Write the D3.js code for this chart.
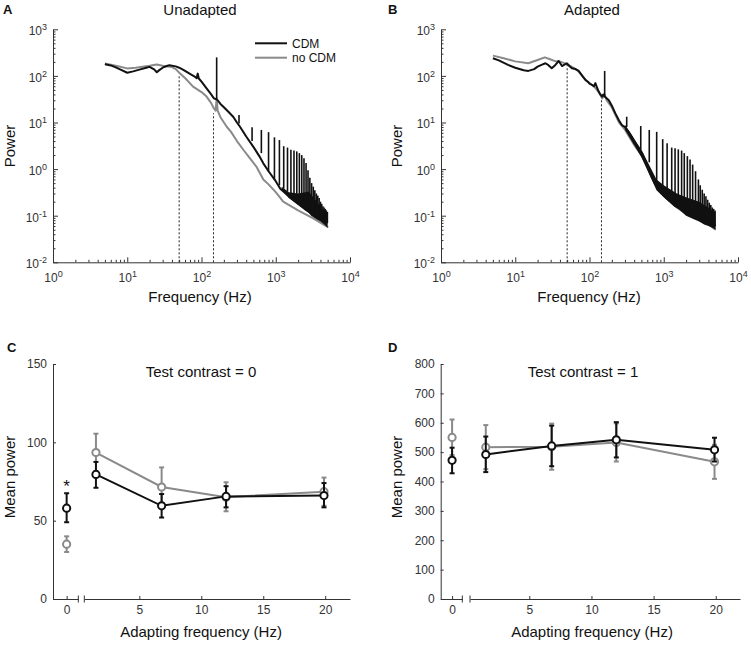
<!DOCTYPE html>
<html><head><meta charset="utf-8">
<script src="https://cdn.jsdelivr.net/npm/d3@7"></script>
<style>
body{margin:0;background:#fff;}
svg{font-family:"Liberation Sans",Arial,sans-serif;display:block;}
.tick text{fill:#333;}
</style></head>
<body>
<script>
// ---------------- DATA ----------------
// Panel A (Unadapted): [frequency Hz, power]
const cdmA = [[5,177],[6,168],[7,152],[8,138],[10,117],[12,125],[15,138],[18,150],[20,156],[23,138],[25,120],[27,133],[30,150],[34,163],[37,170],[45,160],[50,150],[57,134],[70,110],[80,98],[86,89],[89,112],[92,88],[100,75],[117,54],[135,40],[147,33],[155,32],[165,30],[180,25],[197,21.8],[230,17],[267,13.3],[300,10],[330,8.1],[400,5],[500,3],[600,1.9],[680,1.33],[800,0.9],[1000,0.55],[1150,0.38],[1500,0.26],[2000,0.18],[3000,0.11],[4000,0.085],[5000,0.07]];
const noCdmA = [[5,185],[7,165],[10,145],[13,150],[17,160],[20,165],[25,175],[30,165],[35,160],[40,155],[45,140],[51,114],[60,90],[77,59],[100,45],[117,36],[135,26],[147,20],[155,18],[160,33],[165,18],[180,13],[220,8],[250,6.3],[300,4],[366,2.6],[450,1.7],[555,1.1],[680,0.6],[800,0.47],[1000,0.32],[1260,0.2],[2000,0.13],[3200,0.088],[5100,0.056]];
const spikeFreqA = [160,320,480,640,800,960,1120,1280,1440,1600,1760,1920,2080,2240,2400,2560,2720,2880,3040,3200,3360,3520,3680,3840,4000,4160,4320,4480,4640,4800,4960];
const spikeTopA  = [250,14.5,7.9,6.9,6.2,4.8,4.2,3.1,2.9,2.6,2.5,2.4,2.2,2.0,1.7,1.35,0.95,0.65,0.5,0.42,0.35,0.3,0.27,0.24,0.2,0.18,0.16,0.15,0.14,0.13,0.12];
const spikeBaseA = [32,9.5,4,2.2,0.9,0.6,0.45,0.38,0.33,0.29,0.26,0.23,0.2,0.18,0.16,0.15,0.14,0.13,0.12,0.11,0.1,0.097,0.093,0.09,0.085,0.082,0.08,0.077,0.075,0.072,0.07];
const noiseFA  = [1200,1500,2000,2500,2800,3000,3500,4000,4500,5000];
const noiseHiA = [0.42,0.32,0.3,0.32,0.33,0.28,0.21,0.16,0.13,0.12];
const noiseLoA = [0.36,0.24,0.17,0.13,0.115,0.1,0.085,0.075,0.065,0.055];

// Panel B (Adapted)
const cdmB = [[5,239],[6,215],[8,172],[10,150],[13,132],[15,128],[18,140],[20,158],[23,175],[25.5,187],[28,170],[31,146],[34.7,172],[38.5,209],[42.6,163],[46,175],[49.7,186],[53,165],[58,146],[65,140],[71.5,128],[80,100],[88,82],[95,75],[100,68],[108,64],[115,60],[120,70],[127,55],[133,46],[140,40],[148,36],[153,40],[160,36],[170,33],[182,30],[200,23],[223,15.7],[250,11],[273,8.8],[300,8],[337,6.3],[370,5],[414,3.6],[460,2.8],[510,2.2],[600,1.2],[695,0.68],[800,0.45],[945,0.3],[1100,0.23],[1430,0.16],[2000,0.12],[2400,0.1],[3000,0.09],[4000,0.08],[5000,0.06]];
const noCdmB = [[5,272],[7,240],[10,205],[15,187],[20,220],[25,250],[30,225],[35,205],[40,203],[45,190],[50,180],[55,165],[60,150],[70,128],[80,100],[90,80],[100,70],[110,62],[120,55],[133,45],[148,33],[160,40],[170,30],[200,21],[250,10],[300,7],[400,3.3],[500,2],[600,1.1],[700,0.62],[800,0.42],[1000,0.27],[1500,0.15],[2000,0.11],[3000,0.08],[4000,0.065],[5000,0.05]];
const spikeFreqB = [160,317,490,638,803,968,1110,1280,1420,1570,1740,1890,2080,2260,2450,2680,2930,3100,3300,3500,3700,3900,4100,4300,4500,4700,4900];
const spikeTopB  = [128,13.3,8.4,6.9,6.3,4.4,3.6,2.9,2.8,2.65,2.5,2.2,1.9,1.6,1.25,0.9,0.6,0.45,0.36,0.3,0.26,0.22,0.19,0.17,0.15,0.14,0.13];
const spikeBaseB = [36,8,2.6,1.4,0.45,0.3,0.25,0.21,0.18,0.16,0.14,0.13,0.12,0.11,0.1,0.095,0.09,0.088,0.085,0.083,0.08,0.078,0.075,0.072,0.068,0.064,0.06];
const noiseFB  = [300,500,800,1000,1500,2000,2500,3000,3500,4000,4500,5000];
const noiseHiB = [9,2.6,0.6,0.45,0.3,0.25,0.22,0.2,0.17,0.15,0.13,0.12];
const noiseLoB = [7,1.8,0.35,0.25,0.15,0.1,0.085,0.075,0.065,0.06,0.055,0.05];

const dottedFreqs = [50,145];
const dottedTopA = [104,15.8];
const dottedTopB = [186,35.8];
const logTickValues = [1,10,100,1000,10000];
const logYTickValues = [0.01,0.1,1,10,100,1000];

// Panel C (Test contrast = 0)
const adaptFreqs = [1.5,6.8,12,19.9];
const cdmC    = [79.5,59.5,65.5,66];
const cdmCHi  = [87.5,67,72,74];
const cdmCLo  = [71,52,58.5,58.5];
const noCdmC   = [93.5,71.5,65,68.5];
const noCdmCHi = [105.5,84,74.5,77.5];
const noCdmCLo = [81.5,59,56,59.5];
const zeroC = {cdm:58, cdmHi:67.5, cdmLo:49, no:35, noHi:40, noLo:30};
const yTicksC = [0,50,100,150];

// Panel D (Test contrast = 1)
const cdmD    = [492,521,542,508];
const cdmDHi  = [553,590,602,549];
const cdmDLo  = [432,452,482,468];
const noCdmD   = [517,518,533,467];
const noCdmDHi = [592,597,598,525];
const noCdmDLo = [442,440,468,409];
const zeroD = {cdm:472, cdmHi:515, cdmLo:428, no:550, noHi:611, noLo:490};
const yTicksD = [0,100,200,300,400,500,600,700,800];
const xTicksCD = [5,10,15,20];

// ---------------- DRAW ----------------
const BLACK="#111", GRAY="#8a8a8a", AX="#333";
const svg = d3.select("body").append("svg").attr("width",751).attr("height",647);

function text(x,y,s,opt={}){
  const t = svg.append("text").attr("x",x).attr("y",y).text(s)
    .attr("font-size",opt.size||15).attr("fill",opt.fill||"#111")
    .attr("text-anchor",opt.anchor||"middle");
  if(opt.bold) t.attr("font-weight","bold");
  if(opt.rotate) t.attr("transform",`rotate(-90,${x},${y})`);
  return t;
}

function styleAxis(g){
  g.selectAll("path.domain").attr("stroke",AX).attr("stroke-width",1);
  g.selectAll(".tick line").attr("stroke",AX);
}

function minorVals(lo,hi){ const v=[]; for(let d=lo; d<hi; d*=10) for(let k=2;k<=9;k++) v.push(k*d); return v; }

function spectrum(x0, x1, cdm, nocdm, sF, sT, sB, nF, nHi, nLo, dTop){
  const x = d3.scaleLog().domain([1,1e4]).range([x0,x1]);
  const y = d3.scaleLog().domain([1e-2,1e3]).range([262.3,29.3]);
  // axes
  const gx = svg.append("g").attr("transform","translate(0,262.3)");
  gx.call(d3.axisBottom(x).tickValues(minorVals(1,1e4)).tickSize(-2.5).tickSizeOuter(0).tickFormat(""));
  gx.select(".domain").remove();
  const gx2 = svg.append("g").attr("transform","translate(0,262.3)")
    .call(d3.axisBottom(x).tickValues(logTickValues).tickSize(-5).tickSizeOuter(0).tickPadding(11).tickFormat(()=>"10"));
  gx2.selectAll(".tick text").attr("font-size",12).attr("font-family","Liberation Sans,Arial,sans-serif")
    .append("tspan").attr("dy","-0.55em").attr("font-size",9).text(d=>Math.round(Math.log10(d)));
  styleAxis(gx); styleAxis(gx2);
  const gy = svg.append("g").attr("transform",`translate(${x0},0)`);
  gy.call(d3.axisLeft(y).tickValues(minorVals(0.01,1000)).tickSize(-2.5).tickSizeOuter(0).tickFormat(""));
  gy.select(".domain").remove();
  const gy2 = svg.append("g").attr("transform",`translate(${x0},0)`)
    .call(d3.axisLeft(y).tickValues(logYTickValues).tickSize(-5).tickSizeOuter(0).tickPadding(6).tickFormat(()=>"10"));
  gy2.selectAll(".tick text").attr("font-size",12).attr("font-family","Liberation Sans,Arial,sans-serif").attr("dy","0.45em")
    .append("tspan").attr("dy","-0.55em").attr("font-size",9).text(d=>Math.round(Math.log10(d)));
  styleAxis(gy); styleAxis(gy2);

  // dotted lines
  dottedFreqs.forEach((f,i)=>{
    svg.append("line").attr("x1",x(f)).attr("x2",x(f)).attr("y1",262.3).attr("y2",y(dTop[i]))
      .attr("stroke","#222").attr("stroke-width",1).attr("stroke-dasharray","2,2");
  });
  const line = d3.line().x(d=>x(d[0])).y(d=>y(d[1]));
  svg.append("path").datum(nocdm).attr("d",line).attr("fill","none").attr("stroke",GRAY).attr("stroke-width",2).attr("stroke-linejoin","round");
  // noise band
  const area = d3.area().x(d=>x(d.f)).y0(d=>y(d.lo)).y1(d=>y(d.hi));
  svg.append("path").datum(nF.map((f,i)=>({f,hi:nHi[i],lo:nLo[i]}))).attr("d",area).attr("fill",BLACK);
  svg.append("path").datum(cdm).attr("d",line).attr("fill","none").attr("stroke",BLACK).attr("stroke-width",2).attr("stroke-linejoin","round");
  // spikes
  sF.forEach((f,i)=>{
    svg.append("line").attr("x1",x(f)).attr("x2",x(f)).attr("y1",y(sB[i])).attr("y2",y(sT[i]))
      .attr("stroke",BLACK).attr("stroke-width",1.6);
  });
}

spectrum(53,350,cdmA,noCdmA,spikeFreqA,spikeTopA,spikeBaseA,noiseFA,noiseHiA,noiseLoA,dottedTopA);
spectrum(441,738,cdmB,noCdmB,spikeFreqB,spikeTopB,spikeBaseB,noiseFB,noiseHiB,noiseLoB,dottedTopB);

// Legend (panel A)
svg.append("line").attr("x1",255).attr("x2",287).attr("y1",43.3).attr("y2",43.3).attr("stroke",BLACK).attr("stroke-width",2);
svg.append("line").attr("x1",255).attr("x2",287).attr("y1",57.7).attr("y2",57.7).attr("stroke",GRAY).attr("stroke-width",2);
text(292,47.5,"CDM",{size:12,anchor:"start"});
text(292,62,"no CDM",{size:12,anchor:"start"});

// Titles & labels A/B
text(3,14,"A",{size:13,bold:true,anchor:"start"});
text(200,15,"Unadapted");
text(388,14,"B",{size:13,bold:true,anchor:"start"});
text(592,15,"Adapted");
text(15,146,"Power",{rotate:true});
text(402,146,"Power",{rotate:true});
text(200,302,"Frequency (Hz)");
text(589,302,"Frequency (Hz)");

// ---------------- C / D ----------------
function meanPanel(cfg){
  const y = d3.scaleLinear().domain(cfg.yDomain).range([599,364]);
  const xz = d3.scaleLinear().domain(cfg.zDomain).range(cfg.zRange);
  const xm = d3.scaleLinear().domain(cfg.mDomain).range(cfg.mRange);
  const fmt = d3.format("d");
  const gy = svg.append("g").attr("transform",`translate(${cfg.zRange[0]},0)`)
    .call(d3.axisLeft(y).tickValues(cfg.yTicks).tickFormat(fmt).tickSize(-3).tickSizeOuter(0).tickPadding(6));
  gy.selectAll(".tick text").attr("font-size",12).attr("font-family","Liberation Sans,Arial,sans-serif");
  styleAxis(gy);
  const gz = svg.append("g").attr("transform","translate(0,599)")
    .call(d3.axisBottom(xz).tickValues([0]).tickFormat(fmt).tickSize(-3).tickSizeOuter(0).tickPadding(6));
  const gm = svg.append("g").attr("transform","translate(0,599)")
    .call(d3.axisBottom(xm).tickValues(xTicksCD).tickFormat(fmt).tickSize(-3).tickSizeOuter(0).tickPadding(6));
  [gz,gm].forEach(g=>{ g.selectAll(".tick text").attr("font-size",12).attr("font-family","Liberation Sans,Arial,sans-serif"); styleAxis(g); });
  // break marks
  [xz.range()[1], xm.range()[0]].forEach(px=>{
    svg.append("line").attr("x1",px).attr("x2",px).attr("y1",595.5).attr("y2",602.5).attr("stroke",AX).attr("stroke-width",1);
  });
  function series(vals,hi,lo,zero,zhi,zlo,color){
    const g = svg.append("g");
    const line = d3.line().x(d=>xm(d[0])).y(d=>y(d[1]));
    g.append("path").datum(adaptFreqs.map((f,i)=>[f,vals[i]])).attr("d",line).attr("fill","none").attr("stroke",color).attr("stroke-width",2);
    const pts = adaptFreqs.map((f,i)=>({px:xm(f),v:vals[i],h:hi[i],l:lo[i]}));
    pts.push({px:xz(0),v:zero,h:zhi,l:zlo});
    pts.forEach(p=>{
      g.append("line").attr("x1",p.px).attr("x2",p.px).attr("y1",y(p.l)).attr("y2",y(p.h)).attr("stroke",color).attr("stroke-width",2);
      [p.l,p.h].forEach(v=>g.append("line").attr("x1",p.px-2.5).attr("x2",p.px+2.5).attr("y1",y(v)).attr("y2",y(v)).attr("stroke",color).attr("stroke-width",2));
    });
    pts.forEach(p=>{
      g.append("circle").attr("cx",p.px).attr("cy",y(p.v)).attr("r",3.6).attr("fill","#fff").attr("stroke",color).attr("stroke-width",2);
    });
  }
  series(cfg.no,cfg.noHi,cfg.noLo,cfg.zero.no,cfg.zero.noHi,cfg.zero.noLo,GRAY);
  series(cfg.cdm,cfg.cdmHi,cfg.cdmLo,cfg.zero.cdm,cfg.zero.cdmHi,cfg.zero.cdmLo,BLACK);
  return {y,xz,xm};
}

const pc = meanPanel({yDomain:[0,150],yTicks:yTicksC,zDomain:[-1.1,0.94],zRange:[53,78.3],mDomain:[0.56,22],mRange:[84.3,350],
  cdm:cdmC,cdmHi:cdmCHi,cdmLo:cdmCLo,no:noCdmC,noHi:noCdmCHi,noLo:noCdmCLo,zero:zeroC});
const pd = meanPanel({yDomain:[0,800],yTicks:yTicksD,zDomain:[-0.97,0.87],zRange:[440.7,462.3],mDomain:[0.23,21.95],mRange:[470,740],
  cdm:cdmD,cdmHi:cdmDHi,cdmLo:cdmDLo,no:noCdmD,noHi:noCdmDHi,noLo:noCdmDLo,zero:zeroD});

// asterisk
text(pc.xz(0),pc.y(zeroC.cdmHi)-1,"*",{size:17});

text(7,352,"C",{size:13,bold:true,anchor:"start"});
text(201,377,"Test contrast = 0");
text(15,477,"Mean power",{rotate:true});
text(201,637,"Adapting frequency (Hz)");
text(388,352,"D",{size:13,bold:true,anchor:"start"});
text(583,377,"Test contrast = 1");
text(402,477,"Mean power",{rotate:true});
text(592,637,"Adapting frequency (Hz)");
</script>
</body></html>
